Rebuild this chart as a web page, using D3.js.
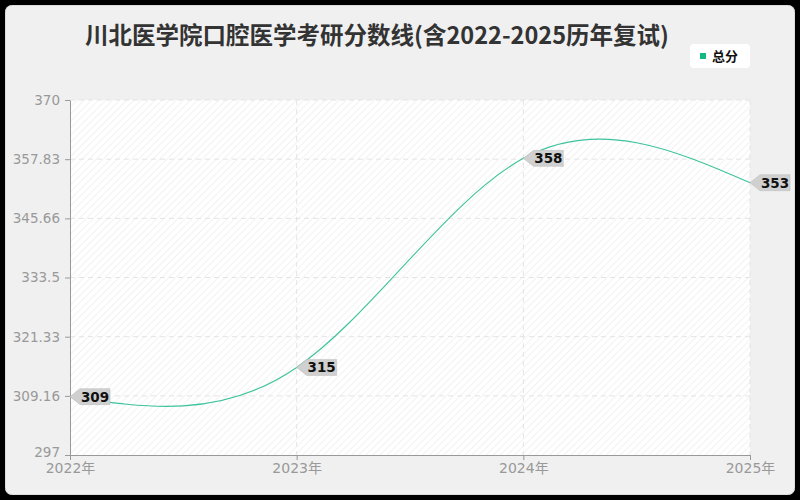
<!DOCTYPE html>
<html><head><meta charset="utf-8">
<script src="https://cdn.jsdelivr.net/npm/d3@7"></script>
<style>html,body{margin:0;padding:0;background:#000;}svg{display:block;}</style>
</head><body>
<svg id="c" width="800" height="500"></svg>
<script>
const years = ["2022年","2023年","2024年","2025年"];
const scores = [309, 315, 358, 353];
const yTicks = [297, 309.16, 321.33, 333.5, 345.66, 357.83, 370];
const seriesName = "总分";
const title = "川北医学院口腔医学考研分数线(含2022-2025历年复试)";

const svg = d3.select("#c");
const cjk = "'Noto Sans CJK SC','Noto Sans',sans-serif";
const num = "'DejaVu Sans','Noto Sans CJK SC',sans-serif";
const m = {l:70, r:750, t:100, b:455};

svg.append("rect").attr("x",5.5).attr("y",5.5).attr("width",789).attr("height",489)
  .attr("rx",6).attr("fill","#f0f0f0").attr("stroke","#ddd");

const defs = svg.append("defs");
const pat = defs.append("pattern").attr("id","hatch").attr("patternUnits","userSpaceOnUse")
  .attr("width",5).attr("height",5).attr("patternTransform","rotate(45)");
pat.append("rect").attr("width",5).attr("height",5).attr("fill","#ffffff");
pat.append("line").attr("x1",0).attr("y1",0).attr("x2",0).attr("y2",5)
  .attr("stroke","#eeeeee").attr("stroke-width",1.5);

const x = d3.scalePoint().domain(years).range([m.l, m.r]);
const y = d3.scaleLinear().domain([297, 370]).range([m.b, m.t]);

svg.append("rect").attr("x",m.l).attr("y",m.t).attr("width",m.r-m.l).attr("height",m.b-m.t)
  .attr("fill","url(#hatch)");

// grid
svg.append("g").selectAll("line").data(yTicks.slice(1)).join("line")
  .attr("x1",m.l).attr("x2",m.r).attr("y1",d=>y(d)).attr("y2",d=>y(d))
  .attr("stroke","#e4e4e4").attr("stroke-dasharray","5,4");
svg.append("g").selectAll("line").data(years.slice(1)).join("line")
  .attr("x1",d=>x(d)).attr("x2",d=>x(d)).attr("y1",m.t).attr("y2",m.b)
  .attr("stroke","#e4e4e4").attr("stroke-dasharray","5,4");

// axes
const ya = svg.append("g").attr("transform",`translate(${m.l},0)`)
  .call(d3.axisLeft(y).tickValues(yTicks).tickFormat(d=>String(d)).tickSize(5).tickSizeOuter(0));
ya.select(".domain").attr("stroke","#999");
ya.selectAll(".tick line").attr("stroke","#999");
ya.selectAll("text").attr("fill","#999").attr("font-size",13.5).attr("font-family",num).attr("dx",-2);
ya.selectAll(".tick").filter(d=>d===297).select("text").attr("dy","0.12em");

const xa = svg.append("g").attr("transform",`translate(0,${m.b})`)
  .call(d3.axisBottom(x).tickSize(5).tickSizeOuter(0));
xa.select(".domain").attr("stroke","#999");
xa.selectAll(".tick line").attr("stroke","#999");
xa.selectAll("text").attr("fill","#999").attr("font-size",14).attr("font-family",num).attr("dy","0.7em");

// line
const line = d3.line().x((d,i)=>x(years[i])).y(d=>y(d)).curve(d3.curveNatural);
svg.append("path").datum(scores).attr("d",line).attr("fill","none")
  .attr("stroke","#3cc39b").attr("stroke-width",1.1);

// labels
const lg = svg.append("g").selectAll("g").data(scores).join("g")
  .attr("transform",(d,i)=>`translate(${x(years[i])},${y(d)})`);
lg.append("path").attr("d","M0,0 L10,-8 L40,-8 L40,8 L10,8 Z")
  .attr("fill","#d0d0d0").attr("stroke","#bbb").attr("stroke-width",0.5);
lg.append("text").attr("x",25).attr("y",5).attr("text-anchor","middle")
  .attr("font-size",13.5).attr("font-weight","bold").attr("font-family",num).attr("fill","#111")
  .text(d=>d);

// title
svg.append("text").attr("x",377).attr("y",44).attr("text-anchor","middle")
  .attr("font-size",23.5).attr("font-weight","bold").attr("font-family",cjk).attr("fill","#333")
  .text(title);

// legend
svg.append("rect").attr("x",690).attr("y",44).attr("width",60).attr("height",24).attr("rx",4)
  .attr("fill","#fff");
svg.append("rect").attr("x",700).attr("y",53).attr("width",6).attr("height",6).attr("fill","#13b981");
svg.append("text").attr("x",712).attr("y",61).attr("font-size",13).attr("font-weight","bold")
  .attr("font-family",cjk).attr("fill","#111").text(seriesName);
</script>
</body></html>
